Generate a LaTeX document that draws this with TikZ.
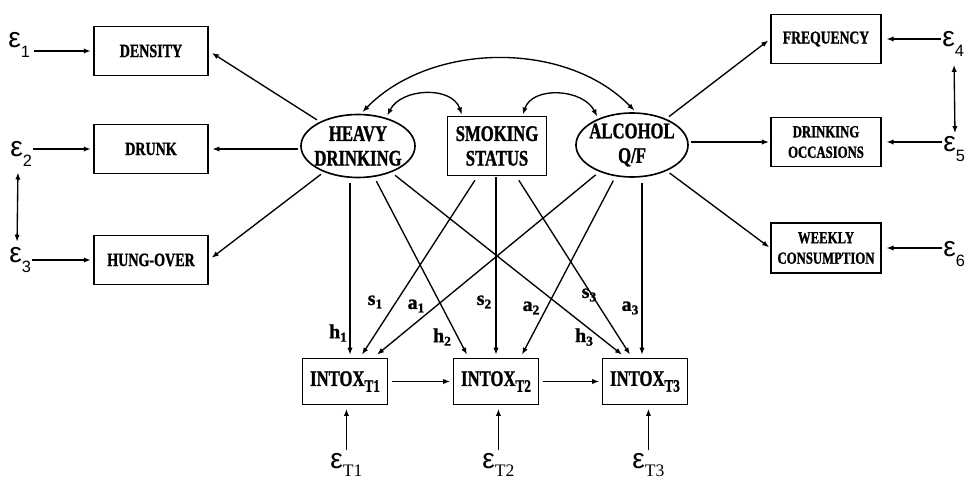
\documentclass[tikz,border=0pt]{standalone}
\usepackage{fontspec}
\setmainfont{Liberation Serif}[FakeStretch=0.75, BoldFeatures={FakeBold=1.2}]
\newfontfamily\labfont{Liberation Serif}[BoldFeatures={FakeBold=1.2}]
\newfontfamily\epsfont{Liberation Sans}
\usetikzlibrary{shapes.geometric,arrows.meta,calc}
\newcommand\fsz[1]{\fontsize{#1}{#1}\selectfont}
\newcommand\epsl[1]{{\epsfont\fsz{24}ε}\raisebox{-8pt}{\epsfont\fsz{14}#1}}
\newcommand\epst[1]{{\epsfont\fsz{24}ε}\raisebox{-7pt}{\labfont\fsz{15}T#1}}
\newcommand\coef[2]{{\labfont\bfseries\fsz{17}#1}\raisebox{-3pt}{\labfont\bfseries\fsz{11.5}#2}}
\newcommand\intox[1]{INTOX\raisebox{-5pt}{\fsz{15}T#1}}
\begin{document}
\begin{tikzpicture}[x=0.03cm,y=-0.03cm,
  box/.style={draw, line width=1.4pt, inner sep=0pt, align=center},
  lat/.style={ellipse, draw, line width=1.4pt, inner sep=0pt},
  arr/.style={-{Latex[length=6pt,width=4.5pt]}, line width=1.15pt},
  darr/.style={{Latex[length=6pt,width=4.5pt]}-{Latex[length=6pt,width=4.5pt]}, line width=1.15pt},
  epsn/.style={inner sep=1pt, anchor=base west},
  coefn/.style={inner sep=0pt},
  txt/.style={inner sep=0pt, align=center},
  big/.style={font=\bfseries\fontsize{19}{21}\selectfont},
  mid/.style={font=\bfseries\fontsize{16}{18}\selectfont},
  sml/.style={font=\bfseries\fontsize{14.5}{17.5}\selectfont},
  lbox/.style={box, minimum width=3.42cm, minimum height=1.47cm},
  rbox/.style={box, minimum width=3.3cm, minimum height=1.47cm},
  tbox/.style={box, big, minimum width=2.56cm, minimum height=1.38cm},
]
\useasboundingbox (0,0) rectangle (966,481);

% left indicators
\node[lbox,mid] (dens) at (151,51) {DENSITY};
\node[lbox,mid] (drunk) at (151,149) {DRUNK};
\node[lbox,mid] (hung) at (151,260) {HUNG-OVER};

% latent / central
\node[lat, minimum width=3.42cm, minimum height=1.89cm] (hd) at (358,146) {};
\node[txt,big] (hdlab) at (hd) {HEAVY\\DRINKING};
\node[box,big, minimum width=2.97cm, minimum height=1.77cm] (ss) at (497,146) {SMOKING\\STATUS};
\node[lat, minimum width=3.36cm, minimum height=1.92cm] (alc) at (632,145) {};
\node[txt,big] (alclab) at (alc) {ALCOHOL\\Q/F};

% right indicators
\node[rbox,font=\bfseries\fontsize{15.5}{18}\selectfont] (freq) at (826,39) {FREQUENCY};
\node[rbox,sml] (docc) at (826,142) {DRINKING\\OCCASIONS};
\node[rbox,sml,minimum height=1.5cm] (week) at (826,248) {WEEKLY\\CONSUMPTION};

% intox
\node[tbox] (t1) at (345,381.5) {\intox{1}};
\node[tbox] (t2) at (496,381.5) {\intox{2}};
\node[tbox] (t3) at (645,381.5) {\intox{3}};

% errors
\node[epsn] (e1) at (7,48) {\epsl{1}};
\node[epsn] (e2) at (9,157) {\epsl{2}};
\node[epsn] (e3) at (8,263) {\epsl{3}};
\node[epsn] (e4) at (941,47) {\epsl{4}};
\node[epsn] (e5) at (942,152) {\epsl{5}};
\node[epsn] (e6) at (942,257) {\epsl{6}};
\node[epsn] (et1) at (329,468) {\epst{1}};
\node[epsn] (et2) at (481,468) {\epst{2}};
\node[epsn] (et3) at (631,468) {\epst{3}};

% coefficient labels
\node[coefn] (lh1) at (338,333) {\coef{h}{1}};
\node[coefn] (lh2) at (442,337) {\coef{h}{2}};
\node[coefn] (lh3) at (584,337) {\coef{h}{3}};
\node[coefn] (ls1) at (375,302) {\coef{s}{1}};
\node[coefn] (ls2) at (484,302) {\coef{s}{2}};
\node[coefn] (ls3) at (589,295) {\coef{s}{3}};
\node[coefn] (la1) at (416,306) {\coef{a}{1}};
\node[coefn] (la2) at (531,308) {\coef{a}{2}};
\node[coefn] (la3) at (630,308) {\coef{a}{3}};

% target points on intox tops
\coordinate (h1t) at ($(t1.north)+(5,-3)$);
\coordinate (s1t) at ($(t1.north)+(17,-3)$);
\coordinate (a1t) at ($(t1.north)+(32,-3)$);
\coordinate (h2t) at ($(t2.north)+(-29,-3)$);
\coordinate (s2t) at ($(t2.north)+(0,-3)$);
\coordinate (a2t) at ($(t2.north)+(26,-3)$);
\coordinate (h3t) at ($(t3.north)+(-23,-3)$);
\coordinate (s3t) at ($(t3.north)+(-15,-3)$);
\coordinate (a3t) at ($(t3.north)+(-3,-3)$);

% measurement arrows
\draw[arr,shorten <=3pt,shorten >=3pt] (hd) -- (dens.east);
\draw[arr,shorten <=2pt,shorten >=3pt] (hd.west |- drunk) -- (drunk.east);
\draw[arr,shorten <=3pt,shorten >=3pt] (hd) -- (hung.east);
\draw[arr,shorten <=3pt,shorten >=2pt] (alc) -- (freq.west);
\draw[arr,shorten <=2pt,shorten >=1pt] (alc.east |- docc) -- (docc.west);
\draw[arr,shorten <=3pt,shorten >=1pt] (alc) -- (week.west);

% error arrows
\draw[arr,shorten <=2pt,shorten >=2pt] (e1.east |- dens) -- (dens);
\draw[arr,shorten >=2pt] (e2.east |- drunk) -- (drunk);
\draw[arr,shorten >=2pt] (e3.east |- hung) -- (hung);
\draw[arr,shorten >=4pt] (e4.west |- freq) -- (freq);
\draw[arr,shorten >=4pt] (e5.west |- docc) -- (docc);
\draw[arr,shorten >=4pt] (e6.west |- week) -- (week);
\draw[darr,shorten <=4pt,shorten >=4pt] ($(e2.south west)+(9,0)$) -- ($(e3.north west)+(9,0)$);
\draw[darr,shorten <=6pt,shorten >=2pt] ($(e4.south west)+(13,0)$) -- ($(e5.north west)+(13,0)$);
\draw[arr,shorten <=1pt,shorten >=3pt] (et1.north) -- (et1.north |- t1.south);
\draw[arr,shorten <=1pt,shorten >=3pt] (et2.north) -- (et2.north |- t2.south);
\draw[arr,shorten <=1pt,shorten >=3pt] (et3.north) -- (et3.north |- t3.south);

% structural paths
\draw[arr,shorten <=4pt] (h1t |- hd.south) -- (h1t);
\draw[arr,shorten <=4pt] (hd) -- (h2t);
\draw[arr,shorten <=4pt] (hd) -- (h3t);
\draw[arr,shorten <=4pt] (ss) -- (s1t);
\draw[arr,shorten <=1pt] (s2t |- ss.south) -- (s2t);
\draw[arr,shorten <=4pt] (ss) -- (s3t);
\draw[arr,shorten <=4pt] (alc) -- (a1t);
\draw[arr,shorten <=4pt] (alc) -- (a2t);
\draw[arr,shorten <=4pt] (a3t |- alc.south) -- (a3t);

% autoregressive
\draw[arr,shorten <=3pt,shorten >=2pt] (t1) -- (t2);
\draw[arr,shorten <=3pt,shorten >=2pt] (t2) -- (t3);

% covariances
\draw[darr,shorten <=2pt,shorten >=2pt] (hd.85) .. controls +(70,-72) and +(-70,-72) .. (alc.83);
\draw[darr,shorten <=2pt,shorten >=1pt] (hd.45) .. controls +(15,-30) and +(-10,-30) .. (ss.139);
\draw[darr,shorten <=1pt,shorten >=2pt] (ss.50) .. controls +(10,-30) and +(-15,-30) .. (alc.142);
\end{tikzpicture}
\end{document}
